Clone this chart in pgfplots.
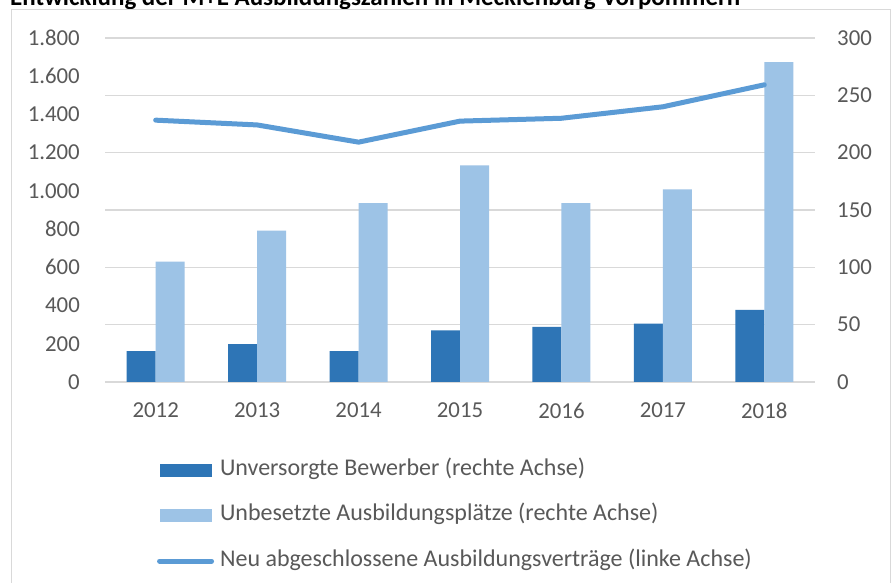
\documentclass[border=0pt]{standalone}
\usepackage{fontspec}
\setmainfont{Carlito}
\usepackage{pgfplots}
\pgfplotsset{compat=1.18}
\definecolor{darkbar}{RGB}{46,117,182}
\definecolor{lightbar}{RGB}{157,195,230}
\definecolor{linec}{RGB}{91,155,213}
\definecolor{tickc}{RGB}{89,89,89}
\definecolor{gridc}{RGB}{217,217,217}
\pgfplotsset{
  barleg/.style={legend image code/.code={\fill[##1] (0bp,-6.5bp) rectangle (52bp,6.5bp);}},
  lineleg/.style={legend image code/.code={\draw[##1] (0bp,0bp) -- (52bp,0bp);}},
  common/.style={
    at={(105bp,201bp)}, anchor=south west,
    width=710bp, height=344bp, scale only axis,
    xmin=-0.5, xmax=6.5, ymin=0,
    axis line style={draw=none},
    major tick length=0pt,
    /pgf/number format/assume math mode=true,
    tick label style={font=\fontsize{22.8bp}{27bp}\selectfont, text=tickc},
  }
}
\begin{document}
\begin{tikzpicture}[x=1bp,y=1bp]
\useasboundingbox (0,0) rectangle (893,583);
\node[anchor=base west, inner sep=0pt, font=\fontsize{25bp}{29bp}\selectfont\bfseries] at (10,577) {Entwicklung der M+E Ausbildungszahlen in Mecklenburg-Vorpommern};
\fill[white] (11,-10) rectangle (890,573);
\draw[gridc, line width=1bp] (11,-10) rectangle (890,573);

% right axis: bars
\begin{axis}[common,
  ymax=300,
  ytick={0,50,100,150,200,250,300},
  yticklabels={0,50,100,150,200,250,300},
  yticklabel pos=right,
  yticklabel style={inner sep=0pt, anchor=west, xshift=22bp},
  ymajorgrids, grid style={gridc, line width=1.2bp},
  xtick={0,1,2,3,4,5,6},
  xticklabels={2012,2013,2014,2015,2016,2017,2018},
  xticklabel style={inner sep=0pt, anchor=north, yshift=-21bp},
  ybar=0pt, bar width=29bp,
  legend style={at={(0.0733,-0.224)}, anchor=north west, draw=none, fill=none,
    inner sep=0pt, outer sep=0pt, row sep=23.5bp, column sep=6bp,
    font=\fontsize{24bp}{28bp}\selectfont, text=tickc,
    nodes={inner sep=0pt, text height=16bp, text depth=6bp}},
  legend cell align=left,
]
\addplot[fill=darkbar, draw=none, barleg] coordinates {(0,27) (1,33) (2,27) (3,45) (4,48) (5,51) (6,63)};
\addlegendentry{Unversorgte Bewerber (rechte Achse)}
\addplot[fill=lightbar, draw=none, barleg] coordinates {(0,105) (1,132) (2,156) (3,189) (4,156) (5,168) (6,279)};
\addlegendentry{Unbesetzte Ausbildungsplätze (rechte Achse)}
\addlegendimage{linec, line width=5bp, line cap=round, lineleg}
\addlegendentry{Neu abgeschlossene Ausbildungsverträge (linke Achse)}
\end{axis}

% left axis: line
\begin{axis}[common,
  ymax=1800,
  ytick={0,200,400,600,800,1000,1200,1400,1600,1800},
  yticklabels={0,200,400,600,800,1.000,1.200,1.400,1.600,1.800},
  yticklabel style={inner sep=0pt, anchor=east, xshift=-25bp},
  xtick=\empty,
]
\addplot[linec, line width=5bp, line join=round, line cap=round, sharp plot] coordinates {(0,1370) (1,1345) (2,1255) (3,1365) (4,1380) (5,1440) (6,1555)};
\end{axis}
\end{tikzpicture}
\end{document}
